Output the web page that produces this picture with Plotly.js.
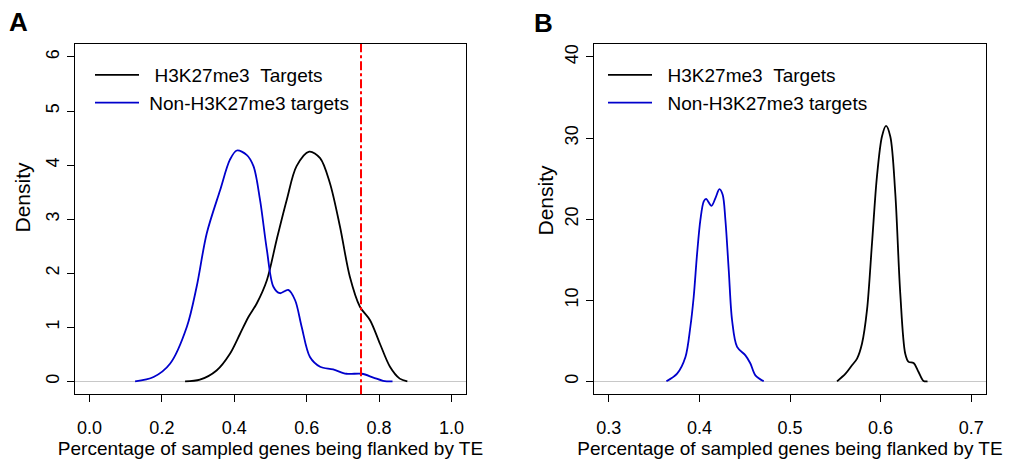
<!DOCTYPE html>
<html>
<head>
<meta charset="utf-8">
<script src="https://cdn.plot.ly/plotly-3.0.1.min.js"></script>
<style>html,body{margin:0;padding:0;background:#fff;}#chart{width:1015px;height:459px;}</style>
</head>
<body>
<div id="chart"></div>
<script>
// ---------- data ----------
const seriesNames = ['H3K27me3\u00a0\u00a0Targets', 'Non-H3K27me3 targets'];

// Panel A
const aTargetX  = [0.264,0.305,0.351,0.388,0.416,0.439,0.462,0.490,0.517,0.545,0.572,0.607,0.637,0.664,0.692,0.719,0.747,0.775,0.802,0.830,0.857,0.878];
const aTargetY  = [0.00,0.03,0.20,0.51,0.88,1.19,1.44,1.87,2.62,3.36,3.98,4.25,4.13,3.67,2.86,1.94,1.38,1.13,0.70,0.27,0.05,0.00];
const aNonX     = [0.126,0.177,0.223,0.269,0.296,0.324,0.361,0.388,0.407,0.434,0.453,0.471,0.490,0.508,0.526,0.549,0.568,0.586,0.609,0.637,0.673,0.710,0.752,0.784,0.811,0.837];
const aNonY     = [0.00,0.08,0.33,1.01,1.75,2.74,3.54,4.10,4.27,4.19,3.98,3.36,2.43,1.75,1.63,1.69,1.50,1.01,0.45,0.27,0.22,0.14,0.14,0.07,0.01,0.00];
const aThreshold = 0.75;

// Panel B
const bTargetX  = [0.5519,0.5613,0.5684,0.5740,0.5795,0.5850,0.5905,0.5960,0.6015,0.6060,0.6107,0.6162,0.6217,0.6272,0.6309,0.6364,0.6419,0.6474,0.6518];
const bTargetY  = [0.0,0.95,1.98,2.8,4.66,8.8,17.0,25.3,30.2,31.5,30.2,23.2,10.85,3.4,2.4,2.27,1.15,0.04,0.0];
const bNonX     = [0.3636,0.3754,0.3846,0.3900,0.3937,0.3975,0.4011,0.4048,0.4074,0.4133,0.4177,0.4221,0.4257,0.4287,0.4324,0.4361,0.4416,0.4508,0.4563,0.4618,0.4710];
const bNonY     = [0.0,0.95,3.0,6.7,10.4,15.8,19.9,22.2,22.5,21.65,22.6,23.7,23.0,19.9,13.7,7.5,4.24,3.2,2.2,0.74,0.0];

// ticks
const aXTicks = [0, 0.2, 0.4, 0.6, 0.8, 1.0];
const aXTickText = ['0.0','0.2','0.4','0.6','0.8','1.0'];
const aYTicks = [0,1,2,3,4,5,6];
const bXTicks = [0.3,0.4,0.5,0.6,0.7];
const bYTicks = [0,10,20,30,40];

const xTitle = 'Percentage of sampled genes being flanked by TE';
const yTitle = 'Density';
const panelLabels = ['A','B'];

// ---------- styling ----------
const FONT = 'Liberation Sans, Arial, Helvetica, sans-serif';
const black = '#000000';
const blue = '#0000cc';
const NB = '\u00a0';

function lineTrace(x, y, name, color, xa, ya, legend) {
  return {
    type: 'scatter', mode: 'lines', x: x, y: y, name: name,
    xaxis: xa, yaxis: ya, legend: legend,
    line: {color: color, width: 1.8, shape: 'spline', smoothing: 0.9},
    hoverinfo: 'x+y'
  };
}

const traces = [
  lineTrace(aTargetX, aTargetY, NB + NB + seriesNames[0], black, 'x', 'y', 'legend'),
  lineTrace(aNonX, aNonY, NB + seriesNames[1], blue, 'x', 'y', 'legend'),
  lineTrace(bTargetX, bTargetY, NB + NB + seriesNames[0], black, 'x2', 'y2', 'legend2'),
  lineTrace(bNonX, bNonY, NB + NB + seriesNames[1], blue, 'x2', 'y2', 'legend2')
];

function xAxis(domain, range, tickvals, ticktext, anchor, titleText) {
  const ax = {
    domain: domain, range: range, anchor: anchor,
    tickmode: 'array', tickvals: tickvals,
    ticks: 'outside', ticklen: 7, tickwidth: 1, tickcolor: black,
    showline: true, mirror: true, linecolor: black, linewidth: 1,
    showgrid: false, zeroline: false,
    tickfont: {family: FONT, size: 18, color: black},
    ticklabelstandoff: 10,
    title: {text: titleText, font: {family: FONT, size: 19, color: black}, standoff: 3}
  };
  if (ticktext) ax.ticktext = ticktext;
  return ax;
}
function yAxis(domain, range, tickvals, anchor) {
  return {
    domain: domain, range: range, anchor: anchor,
    tickmode: 'array', tickvals: tickvals,
    ticks: 'outside', ticklen: 7, tickwidth: 1, tickcolor: black,
    showline: true, mirror: true, linecolor: black, linewidth: 1,
    showgrid: false,
    zeroline: true, zerolinecolor: '#c8c8c8', zerolinewidth: 1.2,
    tickangle: -90,
    tickfont: {family: FONT, size: 18, color: black},
    ticklabelstandoff: 1
  };
}

function yTitleAnn(xPx, yPx) {
  return {text: yTitle, xref: 'paper', yref: 'paper', x: xPx/1015, y: 1 - yPx/459,
    xanchor: 'center', yanchor: 'middle', textangle: -90, showarrow: false,
    font: {family: FONT, size: 21, color: black}};
}

const yDom = [1 - 394.3/459, 1 - 44/459];
const layout = {
  width: 1015, height: 459,
  margin: {l: 0, r: 0, t: 0, b: 0},
  paper_bgcolor: '#ffffff', plot_bgcolor: '#ffffff',
  font: {family: FONT, color: black},
  showlegend: true,
  xaxis: xAxis([75/1015, 466/1015], [-0.04, 1.04], aXTicks, aXTickText, 'y', xTitle),
  yaxis: yAxis(yDom, [-0.24, 6.24], aYTicks, 'x'),
  xaxis2: xAxis([594.3/1015, 985.7/1015], [0.284, 0.716], bXTicks, null, 'y2', NB + NB + NB + NB + xTitle),
  yaxis2: yAxis(yDom, [-1.6, 41.6], bYTicks, 'x2'),
  legend: {
    x: 90/1015, y: 1 - 56/459, xanchor: 'left', yanchor: 'top',
    bgcolor: 'rgba(0,0,0,0)', borderwidth: 0, itemwidth: 44,
    font: {family: FONT, size: 19, color: black}, tracegroupgap: 0
  },
  legend2: {
    x: 603/1015, y: 1 - 56/459, xanchor: 'left', yanchor: 'top',
    bgcolor: 'rgba(0,0,0,0)', borderwidth: 0, itemwidth: 44,
    font: {family: FONT, size: 19, color: black}, tracegroupgap: 0
  },
  shapes: [{
    type: 'line', xref: 'x', yref: 'y domain',
    x0: aThreshold, x1: aThreshold, y0: 0, y1: 1,
    line: {color: '#ff0000', width: 2, dash: 'dashdot'}
  }],
  annotations: [
    {text: '<b>' + panelLabels[0] + '</b>', xref: 'paper', yref: 'paper', x: 18.5/1015, y: 1 - 21.5/459,
     xanchor: 'center', yanchor: 'middle', showarrow: false, font: {family: FONT, size: 26, color: black}},
    {text: '<b>' + panelLabels[1] + '</b>', xref: 'paper', yref: 'paper', x: 543/1015, y: 1 - 22.5/459,
     xanchor: 'center', yanchor: 'middle', showarrow: false, font: {family: FONT, size: 26, color: black}},
    yTitleAnn(21.5, 197),
    yTitleAnn(544.5, 200)
  ]
};

Plotly.newPlot('chart', traces, layout, {displayModeBar: false, staticPlot: true});
</script>
</body>
</html>
